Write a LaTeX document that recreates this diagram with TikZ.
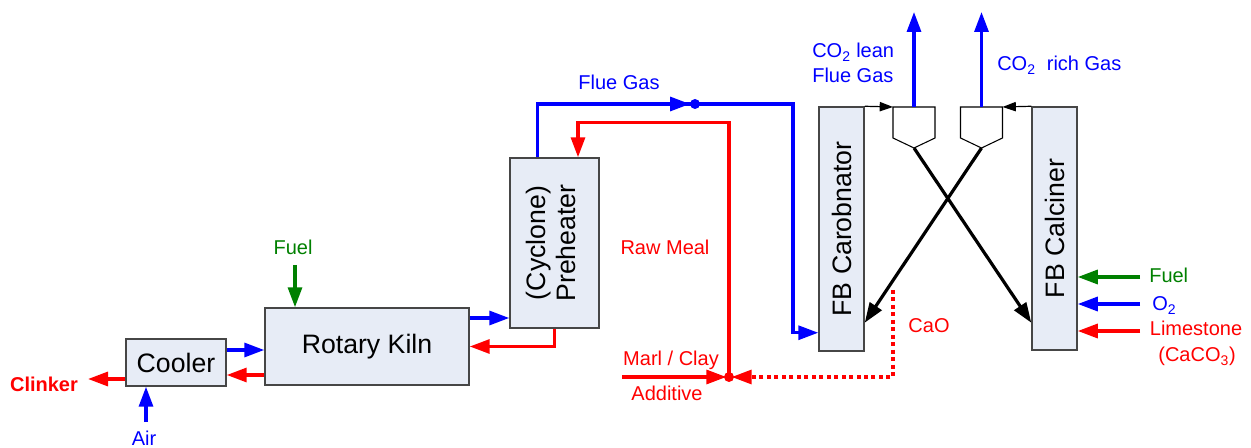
\documentclass[tikz,border=0pt]{standalone}
\usepackage{fontspec}
\setmainfont{Liberation Sans}
\usepackage{tikz}
\usetikzlibrary{calc, arrows.meta}
\definecolor{unitfill}{RGB}{231,236,246}
\definecolor{unitline}{RGB}{70,70,70}
\definecolor{fuelgreen}{RGB}{0,128,0}

\begin{document}
\begin{tikzpicture}[x=0.75pt, y=-0.75pt,
        unit/.style 2 args={draw=unitline, line width=1.1pt, fill=unitfill, inner sep=0pt,
            minimum width=#1*0.75pt, minimum height=#2*0.75pt,
            font=\fontsize{20}{23}\selectfont},
        lbl/.style={inner sep=0pt, anchor=base, font=\fontsize{15}{18}\selectfont},
        flow/.style={line width=2.4pt, -{Triangle[length=15pt, width=10.5pt]}},
        feed/.style={line width=0.9pt, -{Triangle[length=10pt, width=7pt]}}]
            \useasboundingbox (0,0) rectangle (1251,448);
            \node[unit={100}{47}] (cooler) at (176,362.5) {Cooler};
            \node[unit={204}{77}] (kiln) at (367,346.5) {Rotary Kiln};
            \node[unit={89}{170}] (preheater) at (554.5,243)
                {\rotatebox{90}{\begin{tabular}{@{}c@{}}(Cyclone)\\Preheater\end{tabular}}};
            \node[unit={45}{244}] (carbonator) at (841.5,229) {\rotatebox{90}{FB Carobnator}};
            \node[unit={45}{243}] (calciner) at (1054.5,228.5) {\rotatebox{90}{FB Calciner}};
            \node[lbl, font=\fontsize{15}{18}\selectfont\bfseries, text=red] (clinker) at (44,391) {Clinker};
            \node[lbl, text=blue] (air) at (144,445) {Air};
            \node[lbl, text=fuelgreen] (kilnfuel) at (293,255) {Fuel};
            \node[lbl, text=blue] (fluegas) at (619,90) {Flue Gas};
            \node[lbl, text=red] (rawmeal) at (665,255) {Raw Meal};
            \node[lbl, text=red] (marl) at (671,366) {Marl / Clay};
            \node[lbl, text=red] (additive) at (667,400) {Additive};
            \node[lbl, text=red] (cao) at (929,333) {CaO};
            \node[lbl, anchor=base west, text=blue] (lean) at (812,58) {CO\textsubscript{2} lean};
            \node[lbl, anchor=base west, text=blue] (leangas) at (812,83) {Flue Gas};
            \node[lbl, anchor=base west, text=blue] (rich) at (997,71) {CO\textsubscript{2}\ \ rich Gas};
            \node[lbl, anchor=base west, text=fuelgreen] (calcfuel) at (1149,283) {Fuel};
            \node[lbl, anchor=base west, text=blue] (oxygen) at (1152,311) {O\textsubscript{2}};
            \node[lbl, text=red] (limestone) at (1196,336) {Limestone};
            \node[lbl, text=red] (caco) at (1197,362) {(CaCO\textsubscript{3})};
            \coordinate (clk) at (88,379);
            \coordinate (airin) at (146,422);
            \coordinate (kfuelin) at (295,265);
            \coordinate (fg) at (793,104);
            \coordinate (fgdot) at (695,104);
            \coordinate (fgtip) at (690,104);
            \coordinate (mix) at (729,377);
            \coordinate (marlin) at (622,377);
            \coordinate (caoout) at (893,290);
            \coordinate (gasout) at (0,12);
            \foreach \cx/\nm/\tp in {914/lcyc/ltop, 981.5/rcyc/rtop}{
                \draw[line width=0.8pt, fill=white] (\cx-21,107) -- (\cx+21,107) -- (\cx+21,138)
                    -- (\cx,148) -- (\cx-21,138) -- cycle;
                \coordinate (\nm) at (\cx,148);
                \coordinate (\tp) at (\cx,107);
            }
            \draw[flow, blue] ($(cooler.east)+(0,-12.5)$) coordinate (cb) -- (cb -| kiln.west);
            \draw[flow, red] ($(kiln.west)+(0,28.5)$) coordinate (kr) -- (kr -| cooler.east);
            \draw[flow, red] (clk -| cooler.west) -- (clk);
            \draw[flow, blue] (airin) -- (airin |- cooler.south);
            \draw[flow, fuelgreen] (kfuelin) -- (kfuelin |- kiln.north);
            \draw[flow, blue] ($(kiln.east)+(0,-28.5)$) coordinate (kb) -- (kb -| preheater.west);
            \draw[flow, red] (preheater.south) |- (kiln.east);
            \draw[flow, blue] ($(preheater.north west)+(28,0)$) |- (fg) |- ($(carbonator.south west)+(0,-19)$);
            \draw[flow, blue] ($(fgtip)+(-30,0)$) -- (fgtip);
            \fill[blue] (fgdot) circle[radius=3.75pt];
            \draw[flow, red] (mix) |- ($(preheater.north)+(23.5,-35)$) -- ($(preheater.north)+(23.5,0)$);
            \draw[flow, red, shorten >=2pt] (marlin) -- (mix);
            \draw[flow, red, dash pattern=on 3pt off 2.6pt, shorten >=2pt] (caoout) |- (mix);
            \fill[red] (mix) circle[radius=3.75pt];
            \draw[feed] (carbonator.north east) -- ($(ltop)+(-21,0)$);
            \draw[feed] (calciner.north west) -- ($(rtop)+(21,0)$);
            \draw[flow, blue] (ltop) -- (ltop |- gasout);
            \draw[flow, blue] (rtop) -- (rtop |- gasout);
            \draw[flow] (lcyc) -- ($(calciner.south west)+(0,-28)$);
            \draw[flow] (rcyc) -- ($(carbonator.south east)+(0,-29)$);
            \foreach \yy/\cc in {277/fuelgreen, 304/blue, 331/red}
                \draw[flow, \cc] (1140,\yy) coordinate (cin) -- (cin -| calciner.east);
        \end{tikzpicture}
\end{document}
